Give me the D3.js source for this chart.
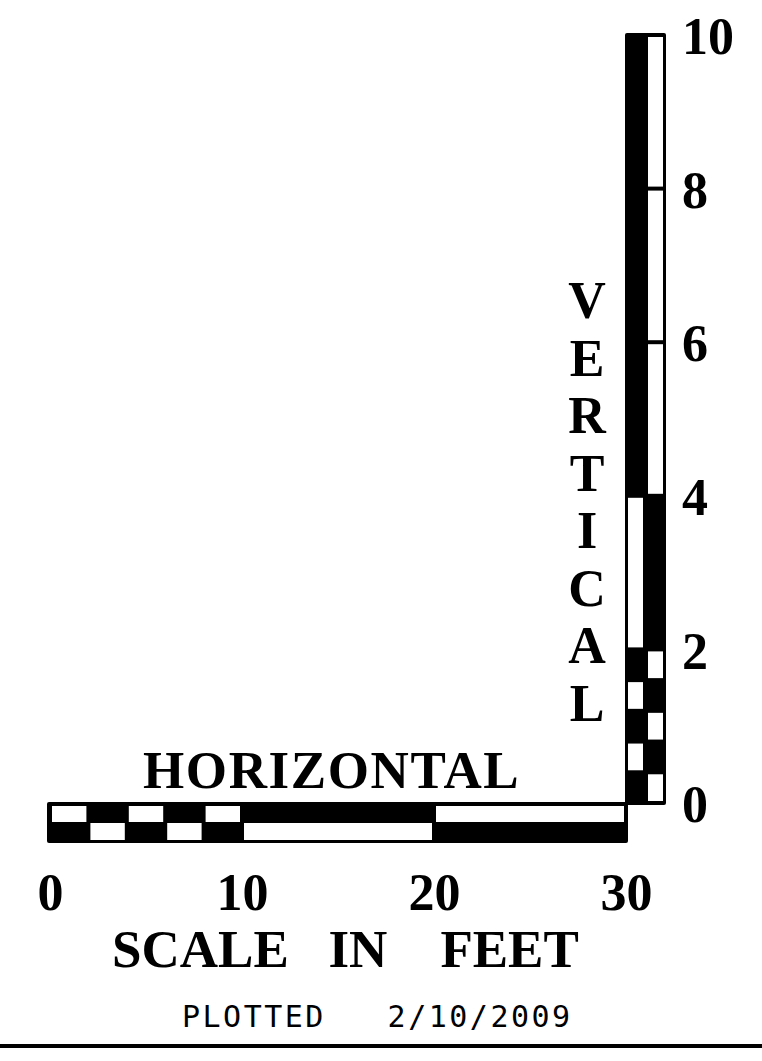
<!DOCTYPE html>
<html>
<head>
<meta charset="utf-8">
<script src="https://cdn.jsdelivr.net/npm/d3@7"></script>
<style>
  html, body { margin: 0; padding: 0; background: #fff; }
  svg { display: block; }
</style>
</head>
<body>
<div id="chart"></div>
<script>
// ---- data (feet) ----
const hTickValues = [0, 10, 20, 30];
const vTickValues = [0, 2, 4, 6, 8, 10];
const hSegStart = [0, 2, 4, 6, 8, 10, 20];
const hSegEnd   = [2, 4, 6, 8, 10, 20, 30];
const hTopWhite = [1, 0, 1, 0, 1, 0, 1];          // bottom row is the complement
const vSegStart = [0, 0.4, 0.8, 1.2, 1.6, 2, 4, 6, 8];
const vSegEnd   = [0.4, 0.8, 1.2, 1.6, 2, 4, 6, 8, 10];
const vRightWhite = [1, 0, 1, 0, 1, 0, 1, 1, 1];  // left column is the complement
const titleH = "HORIZONTAL";
const titleV = "VERTICAL";
const caption = "SCALE   IN    FEET";
const plotted = "PLOTTED   2/10/2009";

// ---- layout ----
const W = 762, H = 1061;
const serif = "'Liberation Serif', 'Times New Roman', serif";

const svg = d3.select("#chart").append("svg")
  .attr("width", W).attr("height", H);
svg.append("rect").attr("width", W).attr("height", H).attr("fill", "#fff");

const x = d3.scaleLinear().domain([0, 30]).range([50, 626]);
const y = d3.scaleLinear().domain([0, 10]).range([803, 35]);

// ---- horizontal bar ----
const hb = svg.append("g");
hb.append("rect")
  .attr("x", x(0) - 3).attr("y", 802)
  .attr("width", x(30) - x(0) + 5).attr("height", 41)
  .attr("rx", 2).attr("fill", "#000");
const hData = hSegStart.map((s, i) => ({ s, e: hSegEnd[i], top: hTopWhite[i] }));
hb.selectAll("rect.cell").data(hData).join("rect")
  .attr("class", "cell")
  .attr("x", d => x(d.s) + 2)
  .attr("width", d => x(d.e) - x(d.s) - 4)
  .attr("y", d => d.top ? 806 : 823)
  .attr("height", d => d.top ? 16 : 17)
  .attr("fill", "#fff");

// ---- vertical bar ----
const vb = svg.append("g");
vb.append("rect")
  .attr("x", 625).attr("y", y(10) - 2)
  .attr("width", 41).attr("height", y(0) - y(10) + 4)
  .attr("rx", 2).attr("fill", "#000");
const vData = vSegStart.map((s, i) => ({ s, e: vSegEnd[i], right: vRightWhite[i] }));
vb.selectAll("rect.cell").data(vData).join("rect")
  .attr("class", "cell")
  .attr("x", d => d.right ? 648 : 628)
  .attr("width", 15)
  .attr("y", d => y(d.e) + 2)
  .attr("height", d => y(d.s) - y(d.e) - 4)
  .attr("fill", "#fff");

// ---- axes (tick labels only) ----
const gx = svg.append("g")
  .attr("transform", "translate(0,873)")
  .call(d3.axisBottom(x).tickValues(hTickValues).tickSize(0).tickPadding(0).tickFormat(d3.format("d")));
gx.select(".domain").remove();
gx.attr("font-family", serif).attr("font-size", 52).attr("font-weight", "bold");
gx.selectAll("text").attr("fill", "#000");

const gy = svg.append("g")
  .attr("transform", "translate(682,0)")
  .call(d3.axisRight(y).tickValues(vTickValues).tickSize(0).tickPadding(0).tickFormat(d3.format("d")));
gy.select(".domain").remove();
gy.attr("font-family", serif).attr("font-size", 52).attr("font-weight", "bold");
gy.selectAll("text").attr("fill", "#000").attr("dy", "0.36em");

// ---- titles ----
svg.append("text")
  .attr("x", 143).attr("y", 788)
  .attr("font-family", serif).attr("font-size", 53).attr("font-weight", "bold")
  .attr("letter-spacing", 1.6)
  .text(titleH);

svg.append("g").selectAll("text").data(titleV.split("")).join("text")
  .attr("x", 587)
  .attr("y", (d, i) => 318 + i * 57.5)
  .attr("text-anchor", "middle")
  .attr("font-family", serif).attr("font-size", 52).attr("font-weight", "bold")
  .text(d => d);

svg.append("text")
  .attr("x", 112).attr("y", 967)
  .attr("font-family", serif).attr("font-size", 53).attr("font-weight", "bold")
  .style("white-space", "pre")
  .text(caption);

svg.append("text")
  .attr("x", 182).attr("y", 1027)
  .attr("font-family", "'DejaVu Sans Mono', monospace").attr("font-size", 30)
  .attr("letter-spacing", 2.5)
  .style("white-space", "pre")
  .text(plotted);

// ---- bottom rule ----
svg.append("line")
  .attr("x1", 0).attr("x2", W)
  .attr("y1", 1046).attr("y2", 1046)
  .attr("stroke", "#000").attr("stroke-width", 4);
</script>
</body>
</html>
